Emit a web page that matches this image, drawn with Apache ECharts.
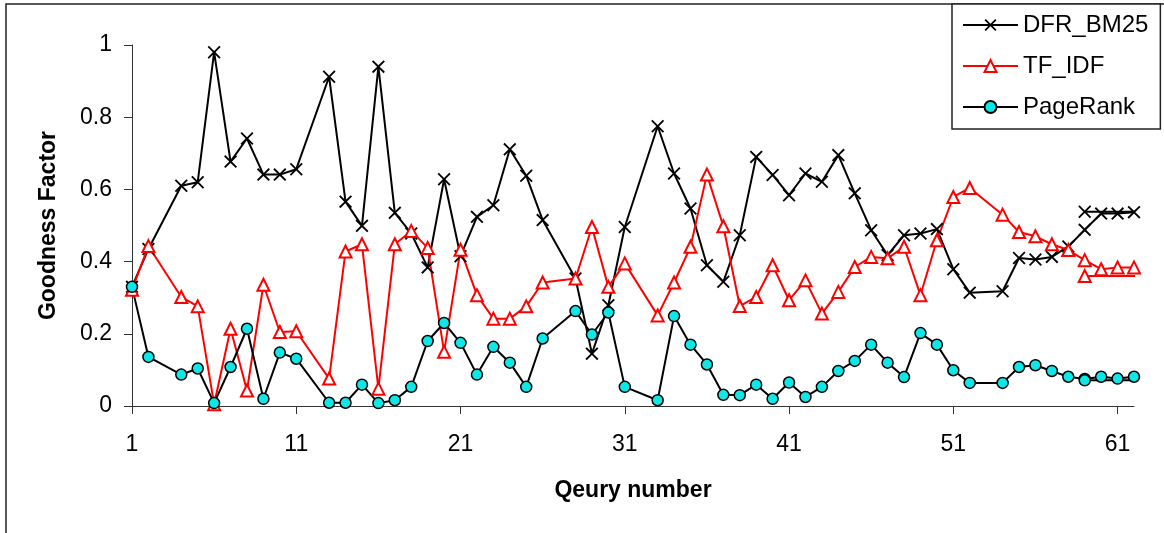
<!DOCTYPE html>
<html>
<head>
<meta charset="utf-8">
<title>Goodness Factor per query</title>
<script src="https://cdn.jsdelivr.net/npm/echarts@6/dist/echarts.min.js"></script>
<style>
  html, body { margin: 0; padding: 0; background: #fff; }
  #chart { width: 1164px; height: 533px; }
</style>
</head>
<body>
<div id="chart"></div>
<script>
// Query numbers that have a measurement (3, 12, 27, 32 and 53 are absent)
const queries = [1, 2, 4, 5, 6, 7, 8, 9, 10, 11, 13, 14, 15, 16, 17, 18, 19, 20, 21, 22,
  23, 24, 25, 26, 28, 29, 30, 31, 33, 34, 35, 36, 37, 38, 39, 40, 41, 42, 43, 44,
  45, 46, 47, 48, 49, 50, 51, 52, 54, 55, 56, 57, 58, 59, 60, 61, 62];

const dfrBm25 = [0.33, 0.435, 0.61, 0.62, 0.98, 0.677, 0.741, 0.641, 0.641, 0.656,
  0.912, 0.566, 0.499, 0.94, 0.535, 0.478, 0.384, 0.628, 0.415, 0.524,
  0.556, 0.711, 0.638, 0.515, 0.353, 0.145, 0.279, 0.496, 0.775, 0.644,
  0.547, 0.39, 0.344, 0.473, 0.69, 0.64, 0.584, 0.644, 0.621, 0.695,
  0.589, 0.487, 0.418, 0.473, 0.478, 0.49, 0.379, 0.314, 0.318, 0.41,
  0.406, 0.413, 0.442, 0.488, 0.533, 0.533, 0.537];

const tfIdf = [0.322, 0.443, 0.302, 0.276, 0.005, 0.214, 0.043, 0.336, 0.205, 0.207,
  0.076, 0.428, 0.448, 0.048, 0.448, 0.485, 0.438, 0.15, 0.433, 0.307,
  0.242, 0.242, 0.276, 0.342, 0.353, 0.496, 0.33, 0.395, 0.251, 0.342,
  0.441, 0.641, 0.498, 0.277, 0.302, 0.39, 0.293, 0.348, 0.256, 0.316,
  0.385, 0.413, 0.409, 0.441, 0.307, 0.459, 0.579, 0.604, 0.53, 0.482,
  0.47, 0.448, 0.432, 0.404, 0.379, 0.384, 0.384];

const pageRank = [0.33, 0.136, 0.087, 0.104, 0.008, 0.108, 0.214, 0.02, 0.148, 0.131,
  0.009, 0.009, 0.059, 0.008, 0.016, 0.053, 0.18, 0.23, 0.175, 0.087,
  0.164, 0.12, 0.053, 0.187, 0.263, 0.198, 0.259, 0.053, 0.016, 0.249,
  0.17, 0.115, 0.031, 0.03, 0.059, 0.02, 0.065, 0.025, 0.053, 0.097,
  0.125, 0.17, 0.12, 0.08, 0.202, 0.17, 0.099, 0.064, 0.064, 0.108,
  0.113, 0.097, 0.081, 0.075, 0.081, 0.076, 0.081];

// Second reading taken from query 59 onward, drawn as a flat segment
const tailQuery = 59;
const dfrTail = 0.538;
const tfIdfTail = 0.36;
const pageRankTail = 0.071;

// Lines run half a query past the last one, to the edge of the plot
const lineEnd = 62.5;

const xTicks = [1, 11, 21, 31, 41, 51, 61];
const yTicks = [0, 0.2, 0.4, 0.6, 0.8, 1];

const FONT = 'Liberation Sans, Arial, sans-serif';
const CYAN = '#0fe6e6';
const CROSS = 'path://M0,1L1,0L5,4L9,0L10,1L6,5L10,9L9,10L5,6L1,10L0,9L4,5Z';

const methods = [
  { name: 'DFR_BM25', values: dfrBm25, tail: dfrTail,
    line: '#000', symbol: CROSS, size: 13,
    item: { color: '#000', borderWidth: 0 } },
  { name: 'TF_IDF', values: tfIdf, tail: tfIdfTail,
    line: '#ff0000', symbol: 'triangle', size: 12,
    item: { color: '#fff', borderColor: '#ff0000', borderWidth: 2 } },
  { name: 'PageRank', values: pageRank, tail: pageRankTail,
    line: '#000', symbol: 'circle', size: 11,
    item: { color: CYAN, borderColor: '#000', borderWidth: 1.5 } }
];

function mainData(values) {
  const pts = queries.map((q, i) => [q, values[i]]);
  pts.push({ value: [lineEnd, values[values.length - 1]], symbol: 'none' });
  return pts;
}

function tailData(v) {
  return [[tailQuery, v], { value: [lineEnd, v], symbol: 'none' }];
}

const series = [];
methods.forEach(m => {
  const common = {
    name: m.name,
    type: 'line',
    clip: false,
    symbol: m.symbol,
    symbolSize: m.size,
    symbolKeepAspect: true,
    showAllSymbol: true,
    lineStyle: { color: m.line, width: 2 },
    itemStyle: m.item,
    emphasis: { disabled: true },
    animation: false
  };
  series.push(Object.assign({}, common, { data: mainData(m.values) }));
  series.push(Object.assign({}, common, { data: tailData(m.tail) }));
});

const chart = echarts.init(document.getElementById('chart'), null, { renderer: 'canvas' });

chart.setOption({
  backgroundColor: '#fff',
  animation: false,
  textStyle: { fontFamily: FONT },
  graphic: [{
    type: 'rect',
    shape: { x: 6, y: 4, width: 1400, height: 800 },
    style: { fill: 'none', stroke: '#222', lineWidth: 1.5 },
    silent: true,
    z: -1
  }],
  grid: { left: 132, right: 30, top: 45, bottom: 127 },
  legend: {
    orient: 'vertical',
    left: 952,
    top: 4,
    data: methods.map(m => m.name),
    itemWidth: 55,
    itemHeight: 15,
    itemGap: 17,
    padding: [9, 12, 10, 10],
    borderColor: '#222',
    borderWidth: 1.5,
    backgroundColor: '#fff',
    textStyle: { fontFamily: FONT, fontSize: 24, color: '#000', lineHeight: 24 },
    selectedMode: false
  },
  xAxis: {
    type: 'value',
    min: 1,
    max: 62,
    name: 'Qeury number',
    nameLocation: 'middle',
    nameGap: 73,
    nameTextStyle: { fontFamily: FONT, fontSize: 23, fontWeight: 'bold', color: '#000' },
    axisLine: { show: true, onZero: false, lineStyle: { color: '#333', width: 1 } },
    axisTick: { show: true, inside: false, length: 8, customValues: xTicks, lineStyle: { color: '#333' } },
    axisLabel: { customValues: xTicks, margin: 27, fontFamily: FONT, fontSize: 23, color: '#000' },
    splitLine: { show: false }
  },
  yAxis: {
    type: 'value',
    min: 0,
    max: 1,
    interval: 0.2,
    name: 'Goodness Factor',
    nameLocation: 'middle',
    nameRotate: 90,
    nameGap: 72,
    nameTextStyle: { fontFamily: FONT, fontSize: 23, fontWeight: 'bold', color: '#000' },
    axisLine: { show: true, lineStyle: { color: '#333', width: 1 } },
    axisTick: { show: true, inside: false, length: 8, customValues: yTicks, lineStyle: { color: '#333' } },
    axisLabel: { customValues: yTicks, margin: 20, fontFamily: FONT, fontSize: 23, color: '#000' },
    splitLine: { show: false }
  },
  series: series
});
</script>
</body>
</html>
